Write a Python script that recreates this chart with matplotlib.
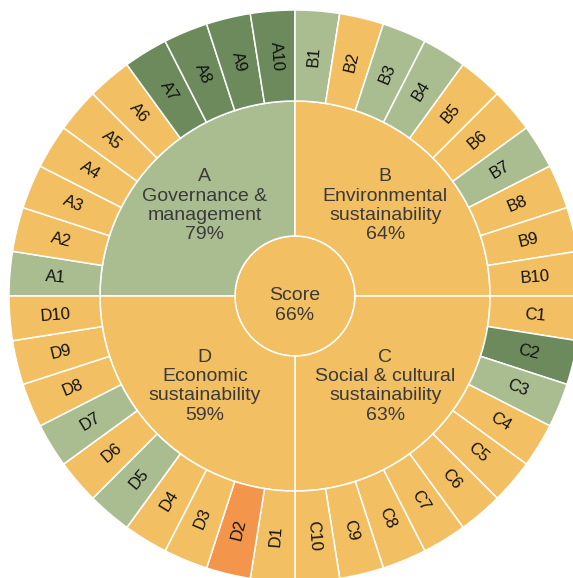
import matplotlib.pyplot as plt
import numpy as np
from matplotlib.patches import Wedge, Circle

plt.rcParams['font.family'] = ['Liberation Sans', 'DejaVu Sans']

# rating level of each part: 0 weak, 1 fair, 2 good, 3 very good
level_colors = ['#F3954A', '#F2BF62', '#AABD91', '#6C8A5B']

groups = ['A', 'B', 'C', 'D']
group_names = ['Governance &\nmanagement', 'Environmental\nsustainability',
               'Social & cultural\nsustainability', 'Economic\nsustainability']
group_scores = [79, 64, 63, 59]
group_levels = [2, 1, 1, 1]

total_score = 66
total_level = 1

levels_A = [2, 1, 1, 1, 1, 1, 3, 3, 3, 3]
levels_B = [2, 1, 2, 2, 1, 1, 2, 1, 1, 1]
levels_C = [1, 3, 2, 1, 1, 1, 1, 1, 1, 1]
levels_D = [1, 0, 1, 1, 2, 1, 2, 1, 1, 1]
item_levels = [levels_A, levels_B, levels_C, levels_D]

W, H = 573, 578
cx, cy = 295, H - 296
r0, r1, r2 = 60, 195, 286

fig = plt.figure(figsize=(W / 100, H / 100), dpi=100)
ax = fig.add_axes([0, 0, 1, 1])
ax.set_xlim(0, W)
ax.set_ylim(0, H)
ax.axis('off')

edge = dict(edgecolor='white', linewidth=1.1)

# centre
ax.add_patch(Circle((cx, cy), r0, facecolor=level_colors[total_level], **edge))
ax.text(cx, cy + 1, 'Score', ha='center', va='center', fontsize=14, color='#3a3a3a')
ax.text(cx, cy - 19, f'{total_score}%', ha='center', va='center', fontsize=14, color='#3a3a3a')

rm_inner = (r0 + r1) / 2
rm_outer = (r1 + r2) / 2
for q, g in enumerate(groups):
    t_hi = 180 - 90 * q
    t_lo = t_hi - 90
    ax.add_patch(Wedge((cx, cy), r1, t_lo, t_hi, width=r1 - r0,
                       facecolor=level_colors[group_levels[q]], **edge))
    lines = [g] + group_names[q].split('\n') + [f'{group_scores[q]}%']
    tm = np.deg2rad(t_hi - 45)
    x0 = cx + rm_inner * np.cos(tm)
    y0 = cy + rm_inner * np.sin(tm)
    n = len(lines)
    for k, line in enumerate(lines):
        ax.text(x0, y0 + ((n - 1) / 2 - k) * 19.4, line, ha='center', va='center',
                fontsize=14, color='#3a3a3a')

    for i, lv in enumerate(item_levels[q]):
        a_hi = t_hi - 9 * i
        a_lo = a_hi - 9
        ax.add_patch(Wedge((cx, cy), r2, a_lo, a_hi, width=r2 - r1,
                           facecolor=level_colors[lv], **edge))
        am = (a_hi + a_lo) / 2
        rad = np.deg2rad(am)
        rot = am if np.cos(rad) > 0 else am - 180
        ax.text(cx + rm_outer * np.cos(rad), cy + rm_outer * np.sin(rad), f'{g}{i + 1}',
                ha='center', va='center', rotation=rot, rotation_mode='anchor',
                fontsize=12, color='#111111')

fig.savefig('out.png', dpi=100)
